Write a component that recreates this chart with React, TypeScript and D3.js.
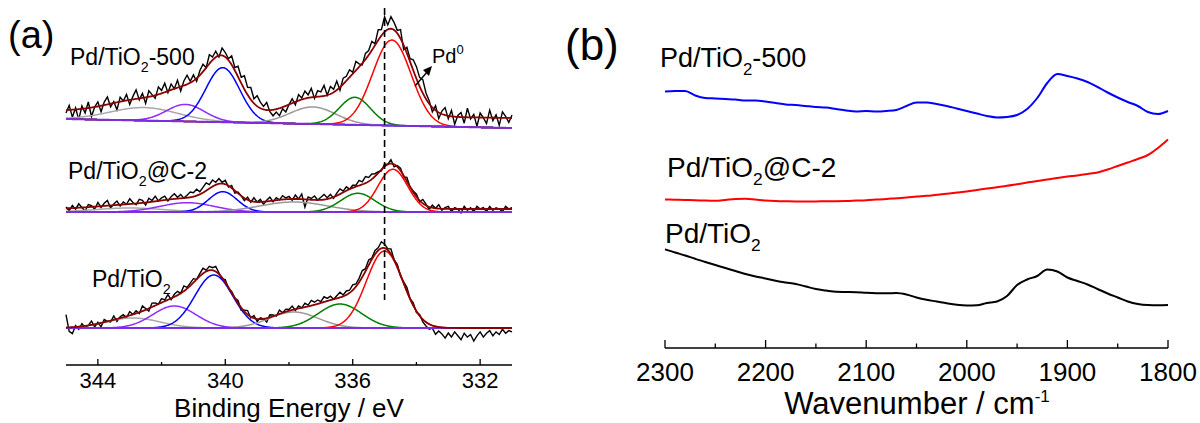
import React from "react";
import * as d3 from "d3";

const FONT = "'Liberation Sans', Arial, Helvetica, sans-serif";

// ---------- panel (a): Pd 3d XPS ----------
const beTicks = [344, 340, 336, 332];
const beMinor = [342, 338, 334];
// fitted peaks, order: satellite(gray), violet, blue, gray, green, red
const peakColors = ["#a8a8a8", "#8f2bff", "#0000ff", "#999999", "#008000", "#ff0000"];

const topCenters = [342.55, 341.25, 340.08, 337.25, 335.93, 334.77];
const topHeights = [13, 17, 54.5, 17, 27.5, 85.5];
const topFwhm = [2.5, 1.4, 1.25, 1.7, 1.15, 1.42];
const topBase = [246, 237];
const topShift = [8, 10];

const midCenters = [343.0, 341.2, 340.08, 337.85, 335.84, 334.74];
const midHeights = [4, 9.3, 20.3, 10, 18.7, 42.7];
const midFwhm = [2.5, 2.0, 1.06, 2.5, 1.27, 1.1];
const midBase = [153, 153];
const midShift = [3, 3];

const botCenters = [342.9, 341.6, 340.36, 337.85, 336.4, 335.0];
const botHeights = [10, 22, 53, 16, 24, 77];
const botFwhm = [2.0, 1.6, 1.4, 1.8, 1.6, 1.35];
const botBase = [37, 37];
const botShift = [0, 0];

// raw counts minus fit, every 0.1 eV from 345 to 331 eV
const topResidual = [
  -3, 4.5, -7.5, 1.5, -10.5, 3, -4.5, 6, -9, 0,
  4.5, -6, 3, 7.5, -3, 1.5, -7.5, 4.5, 0, 6,
  -4.5, 3, 9, -1.5, 4.5, -6, 6, 1.5, -3, 7.5,
  3, 9, -1.5, 6, 0, 7.5, -4.5, 4.5, 9, 1.5,
  6, -3, 4.5, 7.5, 0, 9, 3, 6, -1.5, 7.5,
  4.5, 1.5, 9, 3, 10.5, 6, 13.5, 7.5, 12, 4.5,
  10.5, 6, 3, 7.5, -1.5, -6, -3, -7.5, -1.5, -6,
  0, 4.5, -3, 6, 1.5, 7.5, 3, 9, -1.5, 6,
  4.5, 10.5, 0, 7.5, 3, 9, -3, 6, 4.5, 7.5,
  1.5, 9, 3, -1.5, 6, 4.5, 9, 1.5, 10.5, 6,
  15, 4.5, 12, 7.5, 3, 9, -4.5, 6, 3, 10.5,
  12, 9, 13.5, 6, 3, -4.5, 4.5, -6, 3, 7.5,
  -3, 6, -7.5, 1.5, 4.5, -6, 9, -1.5, 3, -9,
  4.5, 0, -6, 7.5, -3, 3, -7.5, 6, 1.5, -4.5, 3,
];
const midResidual = [
  1.3, -2.6, 2.6, -1.3, 3.9, 0, -3.9, 2.6, 1.3, -2.6,
  3.9, -1.3, 2.6, 5.2, -2.6, 1.3, 3.9, -1.3, 2.6, 0,
  5.2, 1.3, -1.3, 3.9, 2.6, -2.6, 3.9, 1.3, 5.2, 0,
  2.6, 3.9, -1.3, 2.6, 5.2, 1.3, 3.9, 0, 2.6, 5.2,
  3.9, 6.5, 2.6, 5.2, 7.8, 3.9, 6.5, 2.6, 5.2, 1.3,
  3.9, -1.3, 2.6, -2.6, 1.3, 0, -2.6, 2.6, -1.3, 3.9,
  0, 2.6, -2.6, 1.3, 3.9, -1.3, 2.6, 0, 3.9, 1.3,
  2.6, -1.3, 3.9, 0, 5.2, -7.8, 2.6, 1.3, 3.9, 0,
  2.6, 5.2, 1.3, 3.9, -1.3, 2.6, 5.2, 1.3, 3.9, 0,
  2.6, 1.3, 5.2, 2.6, 6.5, 3.9, 5.2, 2.6, 1.3, -1.3,
  2.6, 0, 3.9, -2.6, 1.3, 2.6, -1.3, 3.9, 0, 1.3,
  2.6, -1.3, 3.9, 1.3, -2.6, 2.6, 0, 3.9, -1.3, 1.3,
  2.6, -2.6, 1.3, 0, -3.9, 2.6, -1.3, 1.3, -2.6, 2.6,
  0, 1.3, -2.6, 2.6, -1.3, 1.3, 0, -2.6, 2.6, 0, 1.3,
];
const botResidual = [
  13, -3.9, -6.5, 1.3, -2.6, 2.6, -1.3, 0, 3.9, -2.6,
  1.3, -3.9, 2.6, 0, -1.3, 3.9, -2.6, 1.3, 2.6, -1.3,
  3.9, 0, 2.6, -1.3, 5.2, 1.3, -2.6, 3.9, 2.6, 0,
  3.9, 1.3, 5.2, -1.3, 2.6, 3.9, 0, 5.2, 1.3, 2.6,
  3.9, 0, 2.6, 5.2, 1.3, 3.9, 2.6, 5.2, 1.3, -1.3,
  2.6, -1.3, 1.3, 0, 2.6, -2.6, 1.3, 3.9, -1.3, 2.6,
  -2.6, 1.3, 0, -3.9, 2.6, 1.3, -1.3, 3.9, 0, 2.6,
  1.3, 3.9, -1.3, 2.6, 0, 3.9, 1.3, 5.2, 2.6, 3.9,
  1.3, 5.2, 2.6, 3.9, 0, 2.6, 5.2, 1.3, 3.9, 2.6,
  5.2, 2.6, 3.9, 6.5, 2.6, 5.2, 1.3, 3.9, 2.6, 6.5,
  3.9, 1.3, 5.2, 0, 2.6, -1.3, 1.3, 3.9, 0, 2.6,
  -1.3, 1.3, -2.6, -3.9, -5.2, -2.6, -7.8, -3.9, -6.5, -10.4,
  -5.2, -9.1, -3.9, -7.8, -11.7, -5.2, -9.1, -6.5, -13, -7.8,
  -3.9, -9.1, -5.2, -2.6, -7.8, -3.9, -6.5, -1.3, -5.2, -2.6, -3.9,
];

// ---------- panel (b): CO DRIFTS ----------
const wnTicks = [2300, 2200, 2100, 2000, 1900, 1800];
const wnMinor = [2250, 2150, 2050, 1950, 1850];
const wavenumbers = d3.range(2300, 1799, -10);
const irBlue500 = [
  255.5, 256, 256, 251.5, 249, 248.5, 248, 247.5, 246.5, 246.5,
  245.5, 244, 242.5, 242, 241, 240, 239.5, 238, 236.5, 235.5,
  236, 235.5, 236, 237, 241, 244.5, 244.5, 243, 241, 238.5,
  236, 233.5, 231, 229.5, 230, 232, 238, 249, 264, 273,
  271, 268.5, 265, 260, 254.5, 249.5, 245, 241, 235, 233, 236,
];
const irRedC2 = [
  147.5, 147.2, 147, 146.8, 146.4, 146.2, 147, 148, 148.2, 147.4,
  146.5, 146, 145.7, 145.5, 145.5, 145.6, 145.7, 145.8, 146, 146.4,
  146.8, 147.4, 148, 148.8, 149.5, 150.4, 151.2, 152.2, 153.2, 154.4,
  155.6, 157, 158.4, 159.8, 161.2, 162.8, 164.4, 166, 167.4, 169,
  170.4, 171.6, 173, 174.5, 177.5, 181, 184.5, 188, 192, 199, 207.5,
];
const irBlackTiO2 = [
  97.7, 94.5, 91.5, 88.2, 85, 82, 79, 76, 73, 70.5,
  68.5, 66.2, 64.5, 63, 60.5, 58, 56.5, 55.2, 55, 54.8,
  54.2, 53.8, 53.7, 54, 52.5, 49.5, 47.2, 45.5, 43.7, 42.2,
  41.5, 41.7, 44, 45.5, 51, 62, 67.5, 71, 77.5, 75.5,
  69.5, 66, 62.5, 58, 53.5, 49.5, 45.5, 43, 42, 41.8, 42,
];

const gauss = (e, c, h, w) => h * Math.exp((-4 * Math.LN2 * (e - c) * (e - c)) / (w * w));

function SubLabel({ x, y, size, tail }) {
  const s = size * 0.62;
  return (
    <text x={x} y={y} fontSize={size} fontFamily={FONT} fill="#000">
      <tspan>Pd/TiO</tspan>
      <tspan fontSize={s} dy={size * 0.3}>2</tspan>
      <tspan dy={-size * 0.3}>{tail}</tspan>
    </text>
  );
}

export default function App() {
  const xA = d3.scaleLinear().domain([345, 331]).range([66, 512]);
  const yA = d3.scaleLinear().domain([0, 360]).range([365, 5]);
  const xB = d3.scaleLinear().domain([2300, 1800]).range([665, 1168]);
  const yB = d3.scaleLinear().domain([0, 300]).range([347, 47]);

  const fine = d3.range(0, 701).map((i) => 345 - i * 0.02);
  const raw = d3.range(0, 141).map((i) => 345 - i * 0.1);

  const spectra = [
    { c: topCenters, h: topHeights, w: topFwhm, base: topBase, shift: topShift, res: topResidual },
    { c: midCenters, h: midHeights, w: midFwhm, base: midBase, shift: midShift, res: midResidual },
    { c: botCenters, h: botHeights, w: botFwhm, base: botBase, shift: botShift, res: botResidual },
  ];

  const lineA = d3.line().x((d) => xA(d[0])).y((d) => yA(d[1]));
  const lineB = d3
    .line()
    .x((d) => xB(d[0]))
    .y((d) => yB(d[1]))
    .curve(d3.curveMonotoneX);

  const lin = (pair, e) => pair[0] + ((pair[1] - pair[0]) * (345 - e)) / 14;
  const fitAt = (s, e) =>
    lin(s.base, e) + lin(s.shift, e) + s.c.reduce((a, c, k) => a + gauss(e, c, s.h[k], s.w[k]), 0);

  const xDash = xA(335.0);
  const axB = 348;

  return (
    <svg
      width={1200}
      height={423}
      style={{ position: "absolute", left: 0, top: 0, background: "#fff" }}
    >
      {/* ---------- panel (a) ---------- */}
      {spectra.map((s, si) => (
        <g key={si}>
          <path
            d={lineA(raw.map((e, i) => [e, fitAt(s, e) + s.res[i]]))}
            fill="none"
            stroke="#000"
            strokeWidth={1.4}
          />
          {s.c.map((c, k) => (
            <path
              key={k}
              d={lineA(fine.map((e) => [e, lin(s.base, e) + gauss(e, c, s.h[k], s.w[k])]))}
              fill="none"
              stroke={peakColors[k]}
              strokeWidth={1.5}
            />
          ))}
          <path
            d={lineA(fine.map((e) => [e, lin(s.base, e)]))}
            fill="none"
            stroke="#7b2ee0"
            strokeWidth={2}
          />
          <path
            d={lineA(fine.map((e) => [e, fitAt(s, e)]))}
            fill="none"
            stroke="#8b0000"
            strokeWidth={1.8}
          />
        </g>
      ))}

      <line x1={xDash} x2={xDash} y1={8} y2={300} stroke="#000" strokeWidth={1.6} strokeDasharray="7,4" />

      {/* Pd0 marker */}
      <line x1={415} y1={86} x2={428} y2={71} stroke="#000" strokeWidth={1.4} />
      <path d="M432,66 L423,70 L429,76 Z" fill="#000" />
      <text x={432} y={63} fontSize={20} fontFamily={FONT}>
        Pd<tspan fontSize={13} dy={-9}>0</tspan>
      </text>

      <SubLabel x={70} y={65} size={23} tail="-500" />
      <SubLabel x={68} y={179} size={23} tail="@C-2" />
      <SubLabel x={92} y={287} size={23} tail="" />

      <line x1={66} x2={512} y1={365} y2={365} stroke="#000" strokeWidth={1.3} />
      {beTicks.map((t) => (
        <g key={t}>
          <line x1={xA(t)} x2={xA(t)} y1={365} y2={359} stroke="#000" strokeWidth={1.3} />
          <text x={xA(t)} y={388} fontSize={22} textAnchor="middle" fontFamily={FONT}>
            {t}
          </text>
        </g>
      ))}
      {beMinor.map((t) => (
        <line key={t} x1={xA(t)} x2={xA(t)} y1={365} y2={362} stroke="#000" strokeWidth={1.3} />
      ))}
      <text x={289} y={417} fontSize={26} textAnchor="middle" fontFamily={FONT}>
        Binding Energy / eV
      </text>
      <text x={8} y={48} fontSize={38} fontFamily={FONT}>
        (a)
      </text>

      {/* ---------- panel (b) ---------- */}
      <path d={lineB(wavenumbers.map((w, i) => [w, irBlue500[i]]))} fill="none" stroke="#0000ff" strokeWidth={2} />
      <path d={lineB(wavenumbers.map((w, i) => [w, irRedC2[i]]))} fill="none" stroke="#ff0000" strokeWidth={2} />
      <path d={lineB(wavenumbers.map((w, i) => [w, irBlackTiO2[i]]))} fill="none" stroke="#000" strokeWidth={2} />

      <SubLabel x={660} y={67} size={27} tail="-500" />
      <SubLabel x={667} y={177} size={28} tail="@C-2" />
      <SubLabel x={665} y={243} size={28} tail="" />

      <line x1={665} x2={1168} y1={axB} y2={axB} stroke="#000" strokeWidth={1.3} />
      {wnTicks.map((t) => (
        <g key={t}>
          <line x1={xB(t)} x2={xB(t)} y1={axB} y2={axB - 8} stroke="#000" strokeWidth={1.3} />
          <text x={xB(t)} y={381} fontSize={26} textAnchor="middle" fontFamily={FONT}>
            {t}
          </text>
        </g>
      ))}
      {wnMinor.map((t) => (
        <line key={t} x1={xB(t)} x2={xB(t)} y1={axB} y2={axB - 4.5} stroke="#000" strokeWidth={1.3} />
      ))}
      <text x={917} y={414} fontSize={31} textAnchor="middle" fontFamily={FONT}>
        Wavenumber / cm<tspan fontSize={17} dy={-12}>-1</tspan>
      </text>
      <text x={565} y={60} fontSize={44} fontFamily={FONT}>
        (b)
      </text>
    </svg>
  );
}
